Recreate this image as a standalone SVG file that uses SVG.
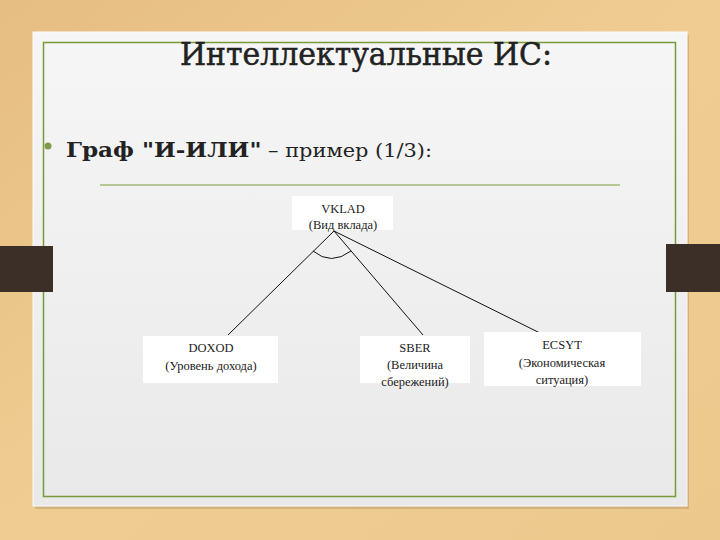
<svg xmlns="http://www.w3.org/2000/svg" width="720" height="540" viewBox="0 0 720 540">
<defs>
<linearGradient id="wood" x1="0" y1="0" x2="1" y2="1">
<stop offset="0" stop-color="#e6bd82"/>
<stop offset="0.5" stop-color="#efcd92"/>
<stop offset="1" stop-color="#ecc88d"/>
</linearGradient>
<linearGradient id="card" x1="0" y1="0" x2="0" y2="1">
<stop offset="0" stop-color="#f6f6f6"/>
<stop offset="1" stop-color="#e9e9e9"/>
</linearGradient>
<style>
.serif{font-family:"DejaVu Serif","Liberation Serif",serif;fill:#222}
.title{font-size:31px;text-anchor:middle;stroke:#222;stroke-width:0.5}
.node rect{fill:#ffffff;stroke:none}
.node text{font-family:"Liberation Serif","DejaVu Serif",serif;font-size:12.5px;fill:#222;text-anchor:middle}
.conn line,.conn path{stroke:#111;stroke-width:1;fill:none}
</style>
</defs>
<rect x="0" y="0" width="720" height="540" fill="url(#wood)"/>
<rect x="35" y="35" width="654" height="474" fill="#b89a6a" opacity="0.5"/>
<rect x="33" y="32" width="654" height="474" fill="url(#card)" stroke="#fbfbfb" stroke-width="1"/>
<rect x="43.5" y="42.5" width="632" height="454" fill="none" stroke="#7a9a3a" stroke-width="1.5"/>
<rect x="0" y="246" width="53" height="46" fill="#3c2f27"/>
<rect x="666" y="244" width="54" height="48" fill="#3c2f27"/>
<text class="serif title" x="366" y="65" textLength="372" lengthAdjust="spacingAndGlyphs">Интеллектуальные ИС:</text>
<circle cx="48" cy="146" r="3.5" fill="#7f9a48"/>
<text class="serif" x="66" y="157" textLength="366" lengthAdjust="spacingAndGlyphs"><tspan font-size="21" font-weight="bold">Граф "И-ИЛИ"</tspan><tspan font-size="19"> – пример (1/3):</tspan></text>
<line x1="100" y1="185" x2="620" y2="185" stroke="#7a9a3a" stroke-width="1"/>
<g class="conn" id="connectors">
<line x1="334" y1="231" x2="228" y2="335"/>
<line x1="334" y1="231" x2="423" y2="335"/>
<line x1="334" y1="231" x2="544" y2="335"/>
<path d="M313,251 Q331,266 351,251"/>
</g>
<g class="node" id="vklad">
<rect x="292" y="196" width="101" height="34"/>
<text x="343" y="213">VKLAD</text>
<text x="343" y="229">(Вид вклада)</text>
</g>
<g class="node" id="doxod">
<rect x="143" y="336" width="135" height="47"/>
<text x="211" y="352">DOXOD</text>
<text x="211" y="370">(Уровень дохода)</text>
</g>
<g class="node" id="sber">
<rect x="360" y="336" width="110" height="47"/>
<text x="415" y="352">SBER</text>
<text x="415" y="369">(Величина</text>
<text x="415" y="386">сбережений)</text>
</g>
<g class="node" id="ecsyt">
<rect x="484" y="332" width="157" height="54"/>
<text x="562" y="349">ECSYT</text>
<text x="562" y="367">(Экономическая</text>
<text x="562" y="384">ситуация)</text>
</g>
</svg>
